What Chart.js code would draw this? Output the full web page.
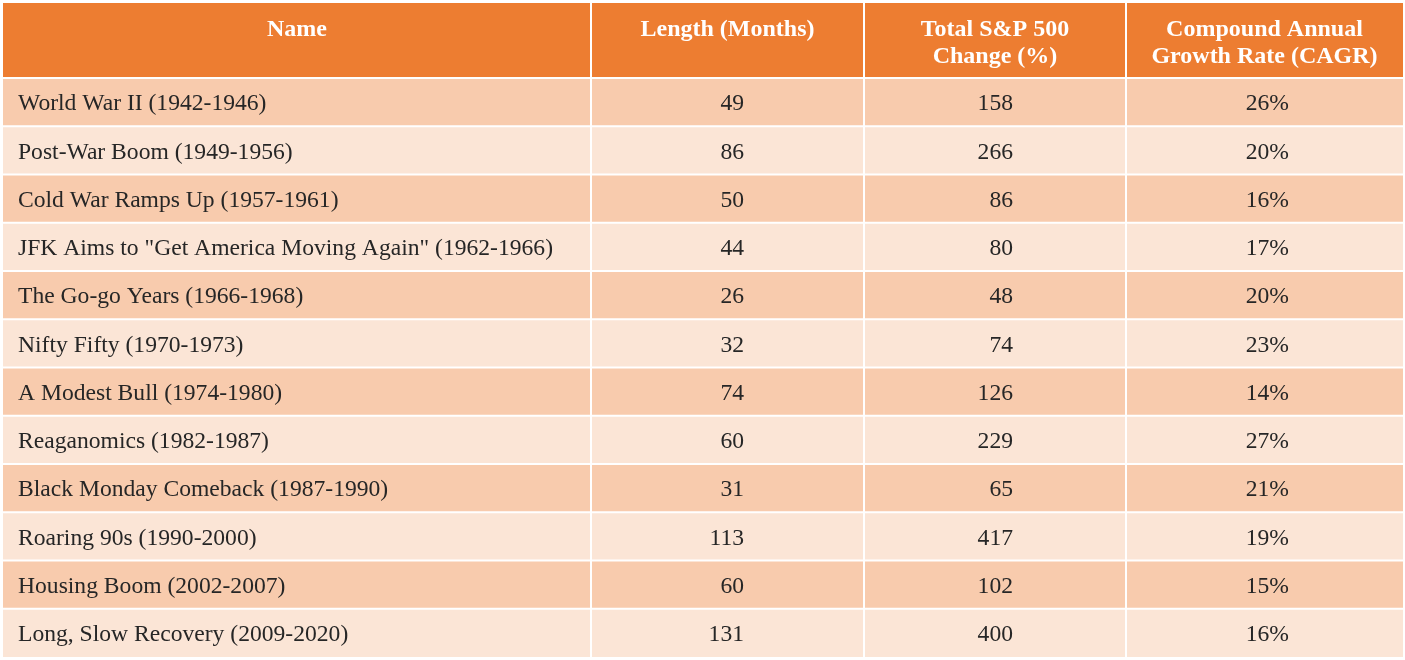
<!DOCTYPE html>
<html>
<head>
<meta charset="utf-8">
<script src="https://cdn.jsdelivr.net/npm/chart.js@4.4.1/dist/chart.umd.min.js"></script>
<style>
body { margin: 0; background: #fff; }
#wrap { width: 1405px; height: 660px; position: relative; }
</style>
</head>
<body>
<div id="wrap"><canvas id="myChart"></canvas></div>
<script>
// table content
const headers = [['Name'], ['Length (Months)'], ['Total S&P 500', 'Change (%)'], ['Compound Annual', 'Growth Rate (CAGR)']];
const names = [
    'World War II (1942-1946)',
    'Post-War Boom (1949-1956)',
    'Cold War Ramps Up (1957-1961)',
    'JFK Aims to "Get America Moving Again" (1962-1966)',
    'The Go-go Years (1966-1968)',
    'Nifty Fifty (1970-1973)',
    'A Modest Bull (1974-1980)',
    'Reaganomics (1982-1987)',
    'Black Monday Comeback (1987-1990)',
    'Roaring 90s (1990-2000)',
    'Housing Boom (2002-2007)',
    'Long, Slow Recovery (2009-2020)'
];
const lengthMonths = [49, 86, 50, 44, 26, 32, 74, 60, 31, 113, 60, 131];
const spxChange = [158, 266, 86, 80, 48, 74, 126, 229, 65, 417, 102, 400];
const cagr = [26, 20, 16, 17, 20, 23, 14, 27, 21, 19, 15, 16];

// layout in table units (x: 0..1400, y: 0..654 going down)
const colEdges = [0, 588, 861, 1123, 1400];
const numRight = [null, 741, 1010, 1286];
const headerH = 75;
const rowH = (654 - headerH) / names.length;
const fontFamily = '"Liberation Serif", "DejaVu Serif", serif';

// draws the cells and their text through the chart scales
const tablePlugin = {
    id: 'tableCells',
    afterDraw(chart) {
        const ctx = chart.ctx;
        const x = chart.scales.x, y = chart.scales.y;
        ctx.save();

        // header
        ctx.fillStyle = '#ED7D31';
        ctx.fillRect(x.getPixelForValue(0), y.getPixelForValue(0),
            x.getPixelForValue(1400) - x.getPixelForValue(0), y.getPixelForValue(headerH) - y.getPixelForValue(0));
        ctx.fillStyle = '#ffffff';
        ctx.font = 'bold 24px ' + fontFamily;
        ctx.textAlign = 'center';
        ctx.textBaseline = 'middle';
        headers.forEach((lines, c) => {
            let cx = (x.getPixelForValue(colEdges[c]) + x.getPixelForValue(colEdges[c + 1])) / 2;
            lines.forEach((t, k) => {
                ctx.fillText(t, cx, y.getPixelForValue(27 + k * 27));
            });
        });

        // body rows
        for (let r = 0; r < names.length; r++) {
            let top = y.getPixelForValue(headerH + r * rowH);
            let bot = y.getPixelForValue(headerH + (r + 1) * rowH);
            ctx.fillStyle = r % 2 === 0 ? '#F8CBAD' : '#FBE5D6';
            ctx.fillRect(x.getPixelForValue(0), top, x.getPixelForValue(1400) - x.getPixelForValue(0), bot - top);

            let mid = (top + bot) / 2 + 2;
            ctx.fillStyle = '#262626';
            ctx.font = '23.6px ' + fontFamily;
            ctx.textBaseline = 'middle';
            ctx.textAlign = 'left';
            ctx.fillText(names[r], x.getPixelForValue(15), mid);
            ctx.textAlign = 'right';
            ctx.fillText(String(lengthMonths[r]), x.getPixelForValue(numRight[1]), mid);
            ctx.fillText(String(spxChange[r]), x.getPixelForValue(numRight[2]), mid);
            ctx.fillText(cagr[r] + '%', x.getPixelForValue(numRight[3]), mid);
        }

        // white grid lines
        ctx.strokeStyle = '#ffffff';
        ctx.lineWidth = 2;
        ctx.beginPath();
        for (let c = 1; c < colEdges.length - 1; c++) {
            let px = x.getPixelForValue(colEdges[c]);
            ctx.moveTo(px, y.getPixelForValue(0));
            ctx.lineTo(px, y.getPixelForValue(654));
        }
        for (let r = 0; r < names.length; r++) {
            let py = y.getPixelForValue(headerH + r * rowH);
            ctx.moveTo(x.getPixelForValue(0), py);
            ctx.lineTo(x.getPixelForValue(1400), py);
        }
        ctx.stroke();
        ctx.restore();
    }
};

let ctx = document.getElementById('myChart').getContext('2d');
let tableChart = new Chart(ctx, {
    type: 'scatter',
    data: { datasets: [{ data: [] }] },
    options: {
        responsive: true,
        maintainAspectRatio: false,
        animation: false,
        layout: { padding: { left: 3, top: 3, right: 2, bottom: 3 } },
        plugins: { legend: { display: false }, tooltip: { enabled: false } },
        scales: {
            x: { type: 'linear', min: 0, max: 1400, display: false },
            y: { type: 'linear', min: 0, max: 654, reverse: true, display: false }
        }
    },
    plugins: [tablePlugin]
});
</script>
</body>
</html>
